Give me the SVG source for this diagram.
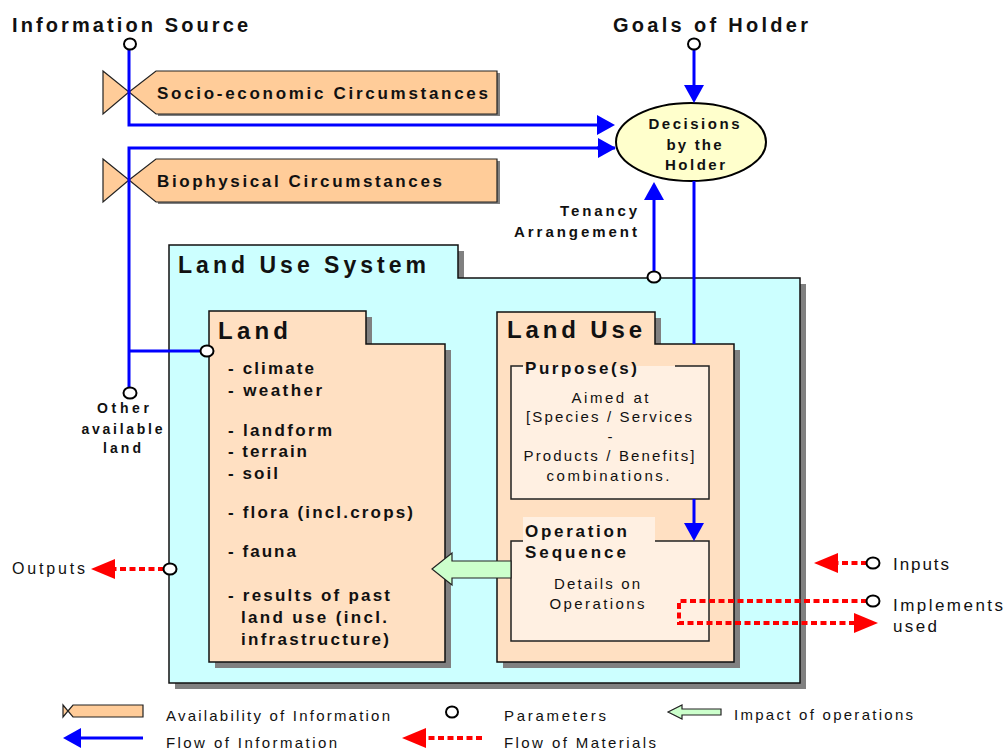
<svg xmlns="http://www.w3.org/2000/svg" width="1007" height="751" viewBox="0 0 1007 751">
<defs>
<style>
text{font-family:"Liberation Sans",Arial,sans-serif;fill:#111}
.b{font-weight:bold}
.h20{font-size:20px}
.h17{font-size:17px}
.h15{font-size:15px}
.h14{font-size:14px}
.h24{font-size:24px}
.info{fill:#FFCC99;stroke:#222;stroke-width:1.2}
.shadow{fill:#808080}
.frame{stroke:#111;stroke-width:1.5}
.blue{stroke:#0000FF;stroke-width:3;fill:none}
.red{stroke:#FF0000;stroke-width:4;fill:none;stroke-dasharray:6 3.5}
.param{fill:#fff;stroke:#000;stroke-width:2}
.impact{fill:#CCFFCC;stroke:#222;stroke-width:1.2}
</style>
<marker id="ab" viewBox="0 0 18 20" refX="0" refY="10" markerWidth="18" markerHeight="20" markerUnits="userSpaceOnUse" orient="auto">
<path d="M0,0 L18,10 L0,20 Z" fill="#0000FF"/>
</marker>
<marker id="ar" viewBox="0 0 24 20" refX="0" refY="10" markerWidth="24" markerHeight="20" markerUnits="userSpaceOnUse" orient="auto">
<path d="M0,0 L24,10 L0,20 Z" fill="#FF0000"/>
</marker>
</defs>
<rect width="1007" height="751" fill="#fff"/>

<g id="title-info-source">
<text class="b h20" x="12" y="32" textLength="236" lengthAdjust="spacing">Information Source</text>
</g>
<g id="title-goals">
<text class="b h20" x="613" y="32" textLength="195" lengthAdjust="spacing">Goals of Holder</text>
</g>

<g id="socio-economic">
<polygon class="shadow" points="158,73 500,73 500,116 158,116"/>
<polygon class="info" points="103,71 129,92 103,114"/>
<polygon class="info" points="129,92 156,71 497,71 497,114 156,114"/>
<text class="b h17" x="157" y="99" textLength="331" lengthAdjust="spacing">Socio-economic Circumstances</text>
</g>

<g id="biophysical">
<polygon class="shadow" points="158,161 500,161 500,204 158,204"/>
<polygon class="info" points="103,159 129,180 103,202"/>
<polygon class="info" points="129,180 156,159 497,159 497,202 156,202"/>
<text class="b h17" x="157" y="187" textLength="285" lengthAdjust="spacing">Biophysical Circumstances</text>
</g>

<g id="decisions">
<ellipse cx="691" cy="142" rx="75" ry="39" fill="#FFFFCC" stroke="#000" stroke-width="2"/>
<text class="b h15" x="694" y="129" text-anchor="middle" textLength="91" lengthAdjust="spacing">Decisions</text>
<text class="b h15" x="694" y="150" text-anchor="middle" textLength="55" lengthAdjust="spacing">by the</text>
<text class="b h15" x="695" y="170" text-anchor="middle" textLength="60" lengthAdjust="spacing">Holder</text>
</g>

<g id="tenancy-label">
<text class="b h15" x="637" y="216" text-anchor="end" textLength="77" lengthAdjust="spacing">Tenancy</text>
<text class="b h15" x="637" y="237" text-anchor="end" textLength="123" lengthAdjust="spacing">Arrangement</text>
</g>

<g id="land-use-system">
<polygon class="shadow" points="175,251 464,251 464,284 806,284 806,689 175,689"/>
<polygon class="frame" fill="#CCFFFF" points="169,245 458,245 458,278 800,278 800,683 169,683"/>
<text class="b" style="font-size:23px" x="178" y="273" textLength="248" lengthAdjust="spacing">Land Use System</text>
</g>

<g id="land">
<polygon class="shadow" points="215,317 372,317 372,350 451,350 451,668 215,668"/>
<polygon class="frame" fill="#FFE0C2" points="209,311 366,311 366,344 445,344 445,662 209,662"/>
<text class="b h24" x="218" y="339" textLength="70" lengthAdjust="spacing">Land</text>
<g class="b h17">
<text x="228" y="374" textLength="86" lengthAdjust="spacing">- climate</text>
<text x="228" y="396" textLength="94" lengthAdjust="spacing">- weather</text>
<text x="228" y="436" textLength="104" lengthAdjust="spacing">- landform</text>
<text x="228" y="457" textLength="79" lengthAdjust="spacing">- terrain</text>
<text x="228" y="479" textLength="50" lengthAdjust="spacing">- soil</text>
<text x="228" y="518" textLength="185" lengthAdjust="spacing">- flora (incl.crops)</text>
<text x="228" y="557" textLength="68" lengthAdjust="spacing">- fauna</text>
<text x="228" y="601" textLength="162" lengthAdjust="spacing">- results of past</text>
<text x="241" y="623" textLength="146" lengthAdjust="spacing">land use (incl.</text>
<text x="241" y="645" textLength="148" lengthAdjust="spacing">infrastructure)</text>
</g>
</g>

<g id="land-use">
<polygon class="shadow" points="503,318 661,318 661,350 740,350 740,668 503,668"/>
<polygon class="frame" fill="#FFE0C2" points="497,312 655,312 655,344 734,344 734,662 497,662"/>
<text class="b h24" x="507" y="338" textLength="135" lengthAdjust="spacing">Land Use</text>
</g>

<g id="purposes">
<rect x="511" y="366" width="198" height="133" fill="#FFF0E2"/>
<path d="M523,366 H511 V499 H709 V366 H675" fill="none" stroke="#222" stroke-width="1.5"/>
<text class="b h17" x="525" y="374" textLength="112" lengthAdjust="spacing">Purpose(s)</text>
<g class="h15" text-anchor="middle">
<text x="610" y="403" textLength="77" lengthAdjust="spacing">Aimed at</text>
<text x="609" y="422" textLength="166" lengthAdjust="spacing">[Species / Services</text>
<text x="610" y="442">-</text>
<text x="609" y="461" textLength="171" lengthAdjust="spacing">Products / Benefits]</text>
<text x="608" y="481" textLength="123" lengthAdjust="spacing">combinations.</text>
</g>
</g>

<g id="operation-sequence">
<rect x="511" y="541" width="198" height="100" fill="#FFF0E2"/>
<rect x="523" y="517" width="132" height="46" fill="#FFF0E2"/>
<path d="M523,541 H511 V641 H709 V541 H655" fill="none" stroke="#222" stroke-width="1.5"/>
<text class="b h17" x="525" y="537" textLength="102" lengthAdjust="spacing">Operation</text>
<text class="b h17" x="525" y="558" textLength="101" lengthAdjust="spacing">Sequence</text>
<text class="h15" x="597" y="589" text-anchor="middle" textLength="86" lengthAdjust="spacing">Details on</text>
<text class="h15" x="597" y="609" text-anchor="middle" textLength="95" lengthAdjust="spacing">Operations</text>
</g>

<g id="impact-of-operations">
<polygon class="impact" points="432,569 452,553 452,561 511,561 511,578 452,578 452,585"/>
</g>

<g id="other-available-land">
<text class="b h14" x="123" y="413" text-anchor="middle" textLength="52" lengthAdjust="spacing">Other</text>
<text class="b h14" x="122" y="434" text-anchor="middle" textLength="81" lengthAdjust="spacing">available</text>
<text class="b h14" x="122" y="453" text-anchor="middle" textLength="38" lengthAdjust="spacing">land</text>
</g>

<g id="outputs">
<text style="font-size:16px" x="12" y="574" textLength="73" lengthAdjust="spacing">Outputs</text>
</g>
<g id="inputs">
<text class="h17" x="893" y="570" textLength="56" lengthAdjust="spacing">Inputs</text>
</g>
<g id="implements-used">
<text class="h17" x="893" y="611" textLength="110" lengthAdjust="spacing">Implements</text>
<text class="h17" x="893" y="632" textLength="44" lengthAdjust="spacing">used</text>
</g>

<g id="connectors">
<path class="blue" d="M129,50 V125 H597" marker-end="url(#ab)"/>
<path class="blue" d="M615,148 H129 V388"/>
<path class="blue" d="M597,148 H598" marker-end="url(#ab)"/>
<path class="blue" d="M129,351 H202"/>
<path class="blue" d="M694,49 V85" marker-end="url(#ab)"/>
<path class="blue" d="M654,272 V200" marker-end="url(#ab)"/>
<path class="blue" d="M694,181 V344"/>
<path class="blue" d="M694,499 V523" marker-end="url(#ab)"/>
<path class="red" d="M164,569 H115" marker-end="url(#ar)"/>
<path class="red" d="M867,563 H838" marker-end="url(#ar)"/>
<path class="red" d="M867,601 H679 V623 H854" marker-end="url(#ar)"/>
</g>

<g id="parameters">
<ellipse class="param" cx="130" cy="44" rx="6" ry="5.5"/>
<ellipse class="param" cx="694" cy="44" rx="6" ry="5.5"/>
<ellipse class="param" cx="654" cy="277" rx="6.5" ry="5.5"/>
<ellipse class="param" cx="207" cy="351" rx="6.5" ry="5.5"/>
<ellipse class="param" cx="130" cy="393" rx="6.5" ry="5.5"/>
<ellipse class="param" cx="170" cy="569" rx="6.5" ry="5.5"/>
<ellipse class="param" cx="873" cy="563" rx="6.5" ry="5.5"/>
<ellipse class="param" cx="873" cy="601" rx="6.5" ry="5.5"/>
</g>

<g id="legend">
<polygon class="info" points="63,705 68,711 63,717"/>
<polygon class="info" points="68,711 73,705 143,705 143,717 73,717"/>
<text class="h15" x="166" y="721" textLength="224" lengthAdjust="spacing">Availability of Information</text>
<path class="blue" d="M143,738 H81" marker-end="url(#ab)"/>
<text class="h15" x="166" y="748" textLength="171" lengthAdjust="spacing">Flow of Information</text>
<ellipse class="param" cx="452" cy="712" rx="6" ry="5.5"/>
<text class="h15" x="504" y="721" textLength="102" lengthAdjust="spacing">Parameters</text>
<path class="red" d="M482,738 H426" marker-end="url(#ar)"/>
<text class="h15" x="504" y="748" textLength="152" lengthAdjust="spacing">Flow of Materials</text>
<polygon class="impact" points="668,712 682,705 682,709 721,709 721,715 682,715 682,719"/>
<text class="h15" x="734" y="720" textLength="179" lengthAdjust="spacing">Impact of operations</text>
</g>
</svg>
